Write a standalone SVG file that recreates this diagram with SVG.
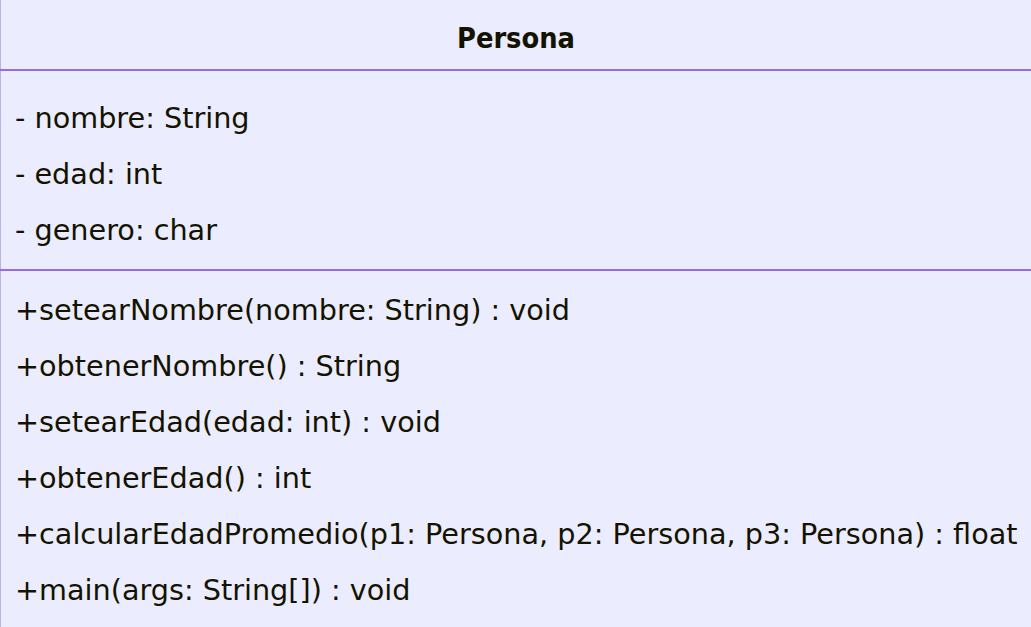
<svg xmlns="http://www.w3.org/2000/svg" width="1031" height="627" viewBox="0 0 1031 627">
<style>
.box{fill:#ECECFF;stroke:#9370DB;stroke-width:1}
.div{stroke:#9370DB;stroke-width:2}
.t{font-family:"DejaVu Sans","Liberation Sans",sans-serif;font-size:28.7px;fill:#131300}
.title{font-family:"DejaVu Sans Condensed","DejaVu Sans",sans-serif;font-size:28.7px;font-weight:bold;fill:#131300}
</style>
<g id="node-Persona">
<rect class="box" x="0" y="-2" width="1034" height="632"/>
<text class="title" x="516" y="48" text-anchor="middle">Persona</text>
<line class="div" x1="0" y1="70" x2="1031" y2="70"/>
<text class="t" x="15" y="128">- nombre: String</text>
<text class="t" x="15" y="184">- edad: int</text>
<text class="t" x="15" y="240">- genero: char</text>
<line class="div" x1="0" y1="270" x2="1031" y2="270"/>
<text class="t" x="15" y="320">+setearNombre(nombre: String) : void</text>
<text class="t" x="15" y="376">+obtenerNombre() : String</text>
<text class="t" x="15" y="432">+setearEdad(edad: int) : void</text>
<text class="t" x="15" y="488">+obtenerEdad() : int</text>
<text class="t" x="15" y="544">+calcularEdadPromedio(p1: Persona, p2: Persona, p3: Persona) : float</text>
<text class="t" x="15" y="600">+main(args: String[]) : void</text>
</g>
<g id="connectors"/>
</svg>
